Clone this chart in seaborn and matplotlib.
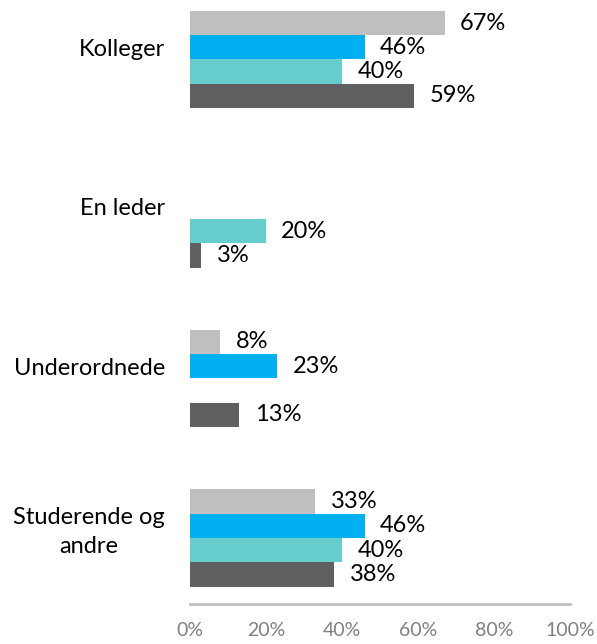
import numpy as np
import pandas as pd
import matplotlib
matplotlib.use("Agg")
import matplotlib.pyplot as plt
import matplotlib.transforms as mtransforms
import seaborn as sns

categories = ["Kolleger", "En leder", "Underordnede", "Studerende og\nandre"]
series = ["S1", "S2", "S3", "S4"]
s1 = [67, np.nan, 8, 33]
s2 = [46, np.nan, 23, 46]
s3 = [40, 20, np.nan, 40]
s4 = [59, 3, 13, 38]
colors = ["#BFBFBF", "#00B0F0", "#66CCCC", "#606060"]
xticks = [0, 20, 40, 60, 80, 100]

rows = []
for name, vals in zip(series, [s1, s2, s3, s4]):
    for c, v in zip(categories, vals):
        rows.append({"cat": c, "series": name, "val": v})
df = pd.DataFrame(rows)

sns.set_theme(style="white")
plt.rcParams["font.family"] = ["Lato", "DejaVu Sans"]

fig = plt.figure(figsize=(5.97, 6.44), dpi=100)
ax = fig.add_axes([190 / 597, 40 / 644, 380 / 597, 604 / 644])

sns.barplot(data=df, y="cat", x="val", hue="series", order=categories,
            hue_order=series, palette=colors, orient="h", width=0.61,
            saturation=1, ax=ax, legend=False, errorbar=None, linewidth=0)

for cont in ax.containers:
    ax.bar_label(cont, fmt=lambda v: f"{v:.0f}%", padding=11, fontsize=17,
                 color="#000000")

ax.set_xlim(0, 100)
ax.set_ylim(3.414, -0.373)
ax.set_xticks(xticks)
ax.set_xticklabels([f"{t}%" for t in xticks], fontsize=14, color="#808080")
ax.tick_params(axis="x", length=0, pad=13)
ax.tick_params(axis="y", length=0, pad=18)
ax.set_yticks(range(len(categories)))
ax.set_yticklabels(categories, fontsize=17, color="#000000",
                   multialignment="center", linespacing=1.45)
offset = mtransforms.ScaledTranslation(0, 12 / 100, fig.dpi_scale_trans)
for lab in ax.get_yticklabels():
    lab.set_transform(lab.get_transform() + offset)
ax.set_xlabel("")
ax.set_ylabel("")
for s in ["top", "right", "left"]:
    ax.spines[s].set_visible(False)
ax.spines["bottom"].set_color("#C0C0C0")
ax.spines["bottom"].set_linewidth(2)

fig.savefig("out.png", dpi=100)
